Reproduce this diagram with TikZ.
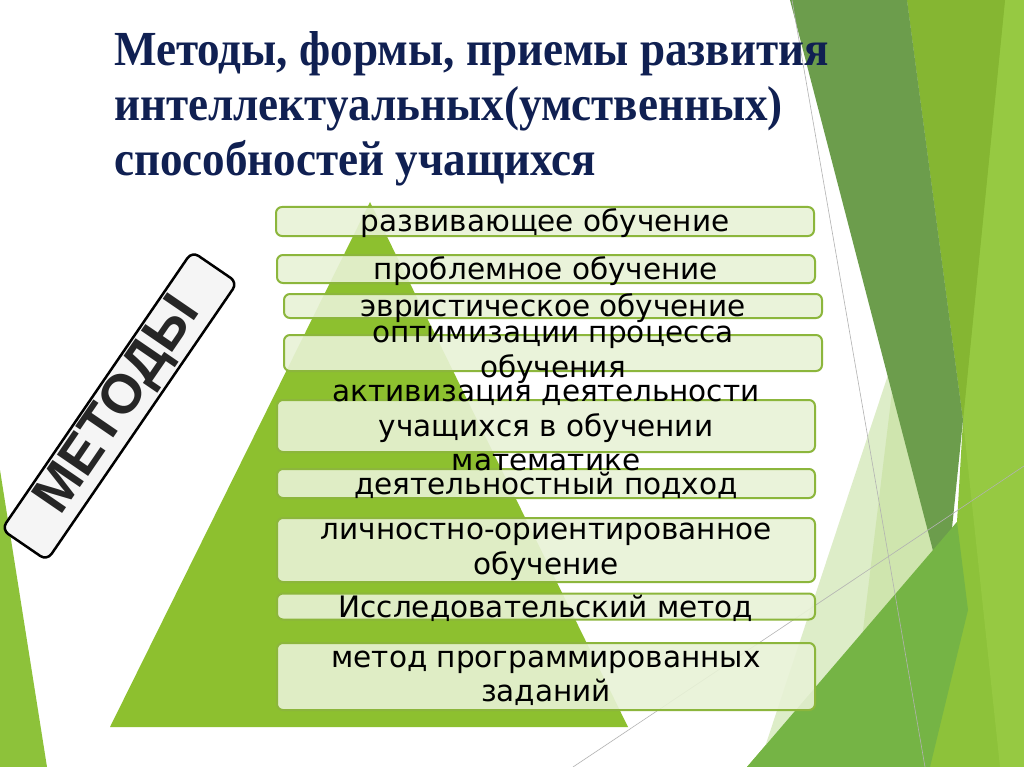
\documentclass[tikz,border=0pt]{standalone}
\usepackage{fontspec}
\setmainfont{Liberation Serif}
\newfontfamily\titlefont[FakeStretch=0.92]{Liberation Serif}
\newfontfamily\barfont{DejaVu Sans}
\newfontfamily\boxfont{Liberation Sans}
\usetikzlibrary{positioning}
\definecolor{titleblue}{RGB}{16,32,82}
\definecolor{pyrgreen}{RGB}{141,192,47}
\definecolor{barfill}{RGB}{232,242,214}
\definecolor{barline}{RGB}{140,182,60}
\definecolor{darkmuted}{RGB}{108,157,76}
\definecolor{yelgreen}{RGB}{133,182,50}
\definecolor{lightgreen}{RGB}{150,201,66}
\definecolor{basegreen}{RGB}{141,194,58}
\definecolor{midgreen}{RGB}{117,180,69}
\definecolor{palegreen}{RGB}{221,237,200}
\definecolor{palegreenb}{RGB}{207,229,174}
\begin{document}
\begin{tikzpicture}[x=1pt,y=-1pt,line join=round,
  bar/.style={draw=barline,line width=2pt,fill=barfill,fill opacity=0.9,rounded corners=6pt,minimum width=538pt,inner sep=0pt},
  lbl/.style={font=\barfont\fontsize{29.5}{34.5}\selectfont,align=center,inner sep=0pt,yshift=-2pt},
  metbox/.style={draw=black,line width=2.5pt,fill=black!4,rounded corners=8pt,minimum width=337pt,minimum height=55pt,inner sep=0pt,font=\boxfont\bfseries\fontsize{55}{55}\selectfont,text=black!85}]
\useasboundingbox (0,0) rectangle (1024,767);
\fill[white] (0,0) rectangle (1024,767);
% background facets
\fill[basegreen] (907,0)--(1024,0)--(1024,767)--(747,767)--(957,522)--(963,420)--cycle;
\fill[lightgreen] (1005,0)--(1024,0)--(1024,767)--(1000,767)--(963,420)--cycle;
\fill[yelgreen] (907,0)--(1005,0)--(963,420)--cycle;
\fill[palegreen] (888,375)--(957,600)--(760,762)--cycle;
\fill[palegreenb] (892,392)--(952,590)--(860,655)--cycle;
\fill[darkmuted] (790,0)--(907,0)--(963,420)--(945,597)--cycle;
\fill[midgreen] (747,767)--(957,522)--(968,610)--(930,767)--cycle;
\fill[basegreen] (0,470)--(47,767)--(0,767)--cycle;
\draw[gray!60,line width=0.6pt] (792,0)--(925,767) (573,767)--(1024,466);
% pyramid
\fill[pyrgreen] (370,202)--(628,727)--(110,727)--cycle;
% title
\node[anchor=north west,align=left,inner sep=0pt,text=titleblue,font=\titlefont\bfseries\fontsize{49}{55}\selectfont] (ttl) at (114,31)
  {Методы, формы, приемы развития\\интеллектуальных(умственных)\\способностей учащихся};
% methods box
\node[metbox,rotate=55.6] (met) at (119.5,406) {МЕТОДЫ};
% bars
\node[bar,minimum height=29pt] (b1) at (545,221.5) {};
\node[bar,minimum height=28pt] (b2) at (546,269) {};
\node[bar,minimum height=24pt] (b3) at (553,306) {};
\node[bar,minimum height=36pt] (b4) at (553,353) {};
\node[bar,minimum height=52pt] (b5) at (546,426) {};
\node[bar,minimum height=29pt] (b6) at (546,483.5) {};
\node[bar,minimum height=64pt] (b7) at (546,550) {};
\node[bar,minimum height=26pt] (b8) at (546,606.5) {};
\node[bar,minimum height=67pt] (b9) at (546,676.5) {};
\node[lbl] (t1) at (b1) {развивающее обучение};
\node[lbl] (t2) at (b2) {проблемное обучение};
\node[lbl] (t3) at (b3) {эвристическое обучение};
\node[lbl] (t4) at (b4) {оптимизации процесса\\обучения};
\node[lbl] (t5) at (b5) {активизация деятельности\\учащихся в обучении\\математике};
\node[lbl] (t6) at (b6) {деятельностный подход};
\node[lbl] (t7) at (b7) {личностно-ориентированное\\обучение};
\node[lbl] (t8) at (b8) {Исследовательский метод};
\node[lbl] (t9) at (b9) {метод программированных\\заданий};
\end{tikzpicture}
\end{document}
